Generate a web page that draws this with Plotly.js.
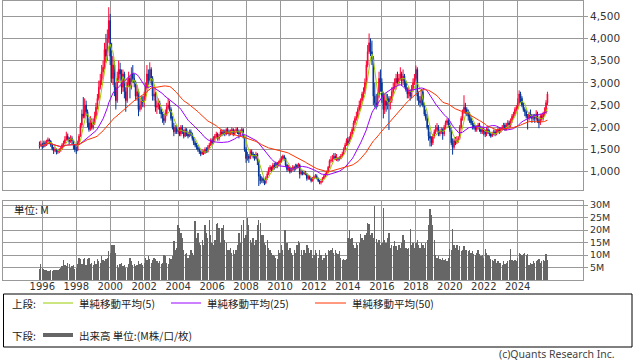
<!DOCTYPE html>
<html><head><meta charset="utf-8">
<script src="https://cdn.plot.ly/plotly-3.0.1.min.js"></script>
<style>html,body{margin:0;padding:0;background:#fff;}#chart{width:638px;height:362px;}</style>
</head><body><div id="chart"></div>
<script>
// first candle month
const startYear = 1995, startMonth = 11;

const opens = [
1600,1590,
1620,1560,1650,1600,1680,1720,1690,1600,1520,1480,1500,1440,
1470,1480,1520,1600,1650,1720,1800,1750,1680,1750,1700,1600,
1500,1480,1650,1800,2050,2300,2250,2500,2350,2100,1950,2100,
2000,2100,2250,2450,2650,2900,3050,3250,3350,3750,3600,4000,
4400,3600,3100,3400,2900,2600,3100,3300,3200,2900,3200,2800,
2600,3000,3100,2900,3200,3100,3000,2700,2800,2400,2500,2600,
2550,2700,2900,3200,3050,3300,3100,2700,2750,2450,2480,2550,
2400,2300,2200,2150,2300,2450,2500,2400,2200,2000,1900,2000,
1900,1950,1850,2000,1900,1800,1950,1850,1800,1900,1850,1750,
1650,1600,1550,1500,1450,1400,1450,1420,1500,1450,1550,1600,
1700,1650,1750,1800,1850,1750,1800,1900,1850,1900,1850,1950,
1900,1850,1900,1950,1850,1900,1950,1900,1850,1900,1950,1800,
1500,1300,1350,1300,1450,1400,1350,1300,1400,1250,900,800,
850,800,750,850,950,1050,1100,1050,1150,1100,1200,1150,
1200,1250,1300,1350,1300,1150,1050,1100,1000,1050,1100,1050,
1150,1100,1150,950,1000,950,1000,950,850,900,850,800,
850,880,900,850,800,760,780,850,900,950,1000,1100,
1250,1260,1300,1350,1300,1310,1280,1300,1350,1400,1500,1600,
1700,1650,1750,1850,1950,2100,2200,2250,2400,2500,2600,2750,
2800,3000,3400,3700,3900,3700,3550,2700,2550,2500,2700,3100,
3000,2700,2400,2600,2500,2650,2550,2600,2800,2900,3000,3100,
3000,3100,3200,3050,3150,3000,2850,2750,2800,2700,2850,3000,
3100,3300,2700,2600,2550,2800,2500,2300,2200,2000,1800,1750,
1650,1800,1900,1950,2000,1850,1900,1950,1850,2000,2100,2150,
2050,1950,1650,1550,1700,1650,1700,1750,2000,2200,2350,2450,
2400,2300,2250,2200,2100,2050,2000,1950,2000,2050,1950,1900,
1950,1900,1850,1950,1900,1850,1800,1850,1900,1850,1900,1950,
1900,1950,2000,2050,1950,2050,2100,2050,2150,2250,2300,2400,
2450,2550,2750,2650,2500,2400,2350,2250,2200,2300,2250,2200,
2250,2200,2300,2150,2100,2250,2200,2300,2350,2550
];
const highs = [
1680,1700,
1650,1700,1700,1720,1770,1750,1710,1630,1560,1560,1520,1510,
1530,1570,1640,1700,1800,1900,1860,1780,1820,1800,1720,1620,
1560,1700,1850,2100,2400,2680,2650,2600,2400,2200,2250,2200,
2200,2350,2550,2750,3050,3200,3400,3500,3900,4100,4200,4700,
4550,3900,3600,3500,3000,3250,3500,3450,3300,3300,3250,2900,
3100,3250,3150,3350,3400,3200,3050,2950,2850,2650,2700,2700,
2800,3000,3400,3300,3460,3350,3150,2900,2800,2600,2650,2600,
2450,2350,2300,2400,2550,2650,2600,2450,2250,2100,2050,2050,
2000,2000,2050,2050,1950,2000,1980,1900,1950,1950,1880,1780,
1700,1650,1600,1550,1480,1500,1480,1550,1550,1600,1650,1750,
1750,1800,1850,1900,1880,1850,1950,1950,1950,1950,1980,2000,
1950,1950,2000,1980,1950,2000,2000,1950,1950,2000,1980,1820,
1550,1450,1400,1500,1500,1450,1400,1450,1420,1280,950,900,
880,830,900,1000,1100,1150,1120,1200,1200,1230,1220,1250,
1300,1350,1385,1380,1320,1180,1150,1120,1100,1150,1130,1180,
1180,1200,1180,1050,1030,1030,1020,970,930,920,870,880,
920,950,940,870,820,800,880,930,980,1030,1130,1280,
1350,1380,1420,1420,1400,1330,1350,1400,1450,1550,1650,1750,
1780,1800,1900,2000,2150,2250,2350,2450,2600,2650,2800,2900,
3100,3500,3850,4110,4000,3950,3600,3000,2750,2800,3250,3300,
3100,2800,2750,2760,2750,2700,2700,2900,3000,3100,3200,3250,
3200,3350,3250,3300,3200,3050,2900,2900,2850,2950,3100,3200,
3390,3350,2800,2700,2860,2850,2550,2400,2300,2050,1900,1800,
1850,1950,2050,2095,2050,1950,2000,1980,2050,2150,2200,2200,
2100,2000,1750,1750,1780,1800,1800,2050,2250,2400,2720,2550,
2450,2400,2350,2250,2150,2100,2050,2050,2100,2100,2000,2000,
2000,1950,2000,2000,1950,1900,1900,1950,1950,1950,2000,2000,
2000,2050,2100,2100,2100,2160,2150,2200,2300,2350,2450,2500,
2650,2830,2800,2700,2550,2450,2400,2300,2350,2400,2300,2300,
2300,2385,2350,2200,2300,2300,2350,2450,2610,2800
];
const lows = [
1520,1560,
1500,1540,1560,1580,1650,1620,1560,1480,1400,1440,1390,1400,
1420,1450,1490,1560,1620,1700,1700,1620,1650,1620,1500,1440,
1400,1460,1620,1780,2000,2200,2200,2250,2000,1900,1920,1950,
1950,2050,2200,2400,2600,2850,2950,3100,3300,3450,3500,3900,
3400,3000,2950,2700,2400,2550,3000,3050,2750,2800,2650,2350,
2550,2900,2650,2850,3000,2900,2600,2600,2250,2350,2400,2450,
2450,2600,2850,2950,3000,2950,2600,2600,2350,2300,2400,2300,
2200,2100,2050,2100,2250,2400,2350,2150,1950,1800,1850,1850,
1850,1800,1800,1850,1750,1780,1800,1750,1780,1800,1700,1600,
1550,1500,1450,1400,1350,1380,1380,1400,1420,1430,1520,1580,
1600,1620,1700,1760,1700,1700,1780,1800,1820,1800,1820,1850,
1800,1820,1850,1800,1820,1870,1850,1750,1800,1880,1750,1450,
1200,1250,1200,1280,1350,1300,1250,1280,1150,680,720,750,
740,700,720,820,920,1000,1000,1030,1050,1080,1080,1120,
1150,1200,1270,1250,1100,1000,1020,960,980,1020,1000,1030,
1070,1080,850,920,920,930,920,800,820,820,760,780,
830,860,830,770,720,715,760,830,880,920,980,1080,
1200,1220,1280,1260,1240,1230,1250,1280,1320,1380,1480,1580,
1600,1620,1720,1800,1920,2050,2150,2200,2350,2400,2550,2650,
2750,2950,3350,3650,3600,3400,2500,2450,2400,2450,2650,2800,
2550,2200,2300,2350,2400,1940,2400,2550,2700,2850,2850,2950,
2950,3050,2950,2950,2900,2800,2650,2650,2600,2650,2800,2950,
3050,2600,2500,2450,2500,2450,2250,2150,1950,1700,1570,1570,
1600,1750,1850,1900,1800,1800,1850,1720,1800,1950,2050,2000,
1900,1600,1385,1500,1600,1620,1650,1720,1950,2150,2300,2300,
2250,2150,2100,2050,1950,1950,1900,1900,1950,1900,1850,1850,
1820,1780,1800,1850,1800,1765,1780,1820,1800,1820,1870,1850,
1880,1920,1950,1920,1930,2000,2000,2000,2100,2200,2250,2350,
2400,2500,2550,2450,2350,2250,2200,1950,2150,2200,2100,2150,
2100,2150,2100,1980,2050,2150,2150,2250,2300,2500
];
const closes = [
1590,1620,
1560,1650,1600,1680,1720,1690,1600,1520,1480,1500,1440,1470,
1480,1520,1600,1650,1720,1800,1750,1680,1750,1700,1600,1500,
1480,1650,1800,2050,2300,2250,2500,2350,2100,1950,2100,2000,
2100,2250,2450,2650,2900,3050,3250,3350,3750,3600,4000,4400,
3600,3100,3400,2900,2600,3100,3300,3200,2900,3200,2800,2600,
3000,3100,2900,3200,3100,3000,2700,2800,2400,2500,2600,2550,
2700,2900,3200,3050,3300,3100,2700,2750,2450,2480,2550,2400,
2300,2200,2150,2300,2450,2500,2400,2200,2000,1900,2000,1900,
1950,1850,2000,1900,1800,1950,1850,1800,1900,1850,1750,1650,
1600,1550,1500,1450,1400,1450,1420,1500,1450,1550,1600,1700,
1650,1750,1800,1850,1750,1800,1900,1850,1900,1850,1950,1900,
1850,1900,1950,1850,1900,1950,1900,1850,1900,1950,1800,1500,
1300,1350,1300,1450,1400,1350,1300,1400,1250,900,800,850,
800,750,850,950,1050,1100,1050,1150,1100,1200,1150,1200,
1250,1300,1350,1300,1150,1050,1100,1000,1050,1100,1050,1150,
1100,1150,950,1000,950,1000,950,850,900,850,800,850,
880,900,850,800,760,780,850,900,950,1000,1100,1250,
1260,1300,1350,1300,1310,1280,1300,1350,1400,1500,1600,1700,
1650,1750,1850,1950,2100,2200,2250,2400,2500,2600,2750,2800,
3000,3400,3700,3900,3700,3550,2700,2550,2500,2700,3100,3000,
2700,2400,2600,2500,2650,2550,2600,2800,2900,3000,3100,3000,
3100,3200,3050,3150,3000,2850,2750,2800,2700,2850,3000,3100,
3300,2700,2600,2550,2800,2500,2300,2200,2000,1800,1750,1650,
1800,1900,1950,2000,1850,1900,1950,1850,2000,2100,2150,2050,
1950,1650,1550,1700,1650,1700,1750,2000,2200,2350,2450,2400,
2300,2250,2200,2100,2050,2000,1950,2000,2050,1950,1900,1950,
1900,1850,1950,1900,1850,1800,1850,1900,1850,1900,1950,1900,
1950,2000,2050,1950,2050,2100,2050,2150,2250,2300,2400,2450,
2550,2750,2650,2500,2400,2350,2250,2200,2300,2250,2200,2250,
2200,2300,2150,2100,2250,2200,2300,2350,2550,2750
];
// volume in millions
const volumes = [
4.5,6.5,
4.8,4.5,4.2,4.0,3.6,3.8,4.0,3.8,4.0,4.1,4.2,4.0,
4.5,5.0,5.5,8.2,6.0,5.5,7.0,6.5,5.0,5.5,6.0,4.5,
5.0,6.5,9.0,8.5,6.5,8.5,9.0,6.0,8.5,9.0,6.5,7.0,
6.0,7.5,6.5,8.5,7.5,7.0,9.5,8.0,7.5,8.5,9.0,11.5,
11.0,14.0,14.0,14.0,11.0,6.0,5.0,6.5,7.0,5.5,6.0,5.0,
5.0,6.5,9.0,7.5,6.0,6.5,5.5,6.0,7.5,6.5,7.0,6.0,
7.0,9.0,8.0,9.5,8.5,7.0,8.0,9.0,8.5,7.5,7.0,7.5,
6.5,7.0,10.0,9.5,7.0,6.5,9.0,8.5,9.5,15.5,12.0,13.0,
22,21,19,17,12,10.5,11,9,10,12,11,10,
23.5,17,19,15,14,16,14,22,19,17,24,18,
15,14,16,22.5,23,21,15,21,22,16,15,12,
12,13,11,12,10.5,12,14,19,15,22,24,17,
18,25,22,16,15,17,14,16,22,24,23,18,
18,15,14,16,13,12,11,10,9.5,9,8.5,12,
11,14,12,20,20,15,12,13,11,10,12,11,
14,15.5,15,12,10,12,11,14,13,11,12,9,
10,12,11,9,12,10,8,9,11,10,12,11.5,
12,13,11,12,11,10.5,11.5,9,8,8.5,8,8.5,
17,20,16.5,17,14,13,15,14,15,18.5,17,16,
18,19,23,22.5,18,19,17,29.8,16.5,15,16,14,
15,28.7,16,15,17,18.8,13,14,13.5,15.7,13.8,12,
14,13,15,18,16,13,12.5,13,20.5,14,15,13,
15,16,14,13,15,14,13,15,16,22,28.5,26,
22,16,10,9,9.5,8.5,8,9,8,8.5,7.5,9,
12.5,12,20.5,14,13,14,12,13.5,11.5,12,13.5,12,
12,11.5,12,11,11.5,10.5,10,11,12,10.5,9.5,10,
9,12.5,11,10,9.5,8.5,8,7.5,8.5,7,7.5,7,
7,6,7.5,6.5,7,7.5,8,12.5,8,7.5,8,7.5,
9,11,10.5,10,10.5,11,10,10.5,6,7,6.5,7.5,
7,7.5,8,8.5,7,7.5,8,7.5,10.5,8
];
const priceTicks = [1000,1500,2000,2500,3000,3500,4000,4500];
const volumeTicks = [5,10,15,20,25,30];
const volumeTickText = ['5M','10M','15M','20M','25M','30M'];
const yearTicks = ['1996','1998','2000','2002','2004','2006','2008','2010','2012','2014','2016','2018','2020','2022','2024'];
const maPeriods = [5,25,50];
const maColors = ['#99cc00','#9900ff','#ff3300'];
const maNames = ['単純移動平均(5)','単純移動平均(25)','単純移動平均(50)'];

// month dates
const dates = closes.map((_, i) => {
  const m0 = startMonth - 1 + i;
  const y = startYear + Math.floor(m0 / 12);
  const m = (m0 % 12) + 1;
  return y + '-' + String(m).padStart(2, '0') + '-01';
});
const yearTickVals = yearTicks.map(y => y + '-01-01');
function sma(arr, n) {
  return arr.map((_, i) => {
    const s = Math.max(0, i - n + 1);
    let t = 0;
    for (let k = s; k <= i; k++) t += arr[k];
    return t / (i - s + 1);
  });
}

const traces = [{
  type: 'candlestick', x: dates, open: opens, high: highs, low: lows, close: closes,
  xaxis: 'x', yaxis: 'y', whiskerwidth: 0,
  increasing: {line: {color: '#ff0033', width: 1}, fillcolor: '#ff0033'},
  decreasing: {line: {color: '#003399', width: 1}, fillcolor: '#003399'},
  hoverinfo: 'skip'
}];
maPeriods.forEach((p, k) => {
  traces.push({type: 'scatter', mode: 'lines', x: dates, y: sma(closes, p), xaxis: 'x', yaxis: 'y',
    line: {color: maColors[k], width: 1}, name: maNames[k], hoverinfo: 'skip'});
});
traces.push({type: 'bar', x: dates, y: volumes, xaxis: 'x2', yaxis: 'y2',
  marker: {color: '#666666', line: {width: 0}}, hoverinfo: 'skip'});

const xRange = ['1993-09-08', '2027-11-05'];
const gridC = '#999999';
const axisBase = {showgrid: true, gridcolor: gridC, gridwidth: 1, showline: true, linecolor: gridC,
  linewidth: 1, mirror: true, zeroline: false, fixedrange: true};

// paper coordinate helpers (plot area x:3..583, y:1..280)
const px = v => (v - 3) / 580;
const py = v => (280 - v) / 279;
const cjk = '"Noto Sans CJK JP", "Noto Sans", sans-serif';
const txt = {family: cjk, size: 10.5, color: '#222'};
const tickFamily = '"DejaVu Sans", Verdana, sans-serif';

const layout = {
  width: 638, height: 362,
  margin: {l: 3, r: 55, t: 1, b: 82},
  paper_bgcolor: '#ffffff', plot_bgcolor: '#ffffff',
  showlegend: false, bargap: 0,
  font: {family: tickFamily, size: 10, color: '#333'},
  xaxis: Object.assign({}, axisBase, {type: 'date', range: xRange, anchor: 'y', showticklabels: false,
    tickmode: 'array', tickvals: yearTickVals, ticks: '', rangeslider: {visible: false}}),
  xaxis2: Object.assign({}, axisBase, {type: 'date', range: xRange, anchor: 'y2',
    tickmode: 'array', tickvals: yearTickVals, ticktext: yearTicks, ticks: '', ticklabelstandoff: -3,
    tickfont: {family: tickFamily, size: 10, color: '#333'}}),
  yaxis: Object.assign({}, axisBase, {domain: [py(190), 1], side: 'right', range: [590, 4840],
    tickvals: priceTicks, tickformat: ',d', ticks: 'outside', ticklen: 4, tickcolor: gridC,
    tickfont: {family: tickFamily, size: 10.5, color: '#333'}}),
  yaxis2: Object.assign({}, axisBase, {domain: [0, py(201)], side: 'right', range: [0, 31.6],
    tickmode: 'array', tickvals: volumeTicks, ticktext: volumeTickText, ticks: 'outside', ticklen: 4, tickcolor: gridC,
    tickfont: {family: tickFamily, size: 9.5, color: '#333'}}),
  shapes: [
    {type: 'rect', xref: 'paper', yref: 'paper', x0: px(3.5), x1: px(632), y0: py(294), y1: py(347),
      line: {color: '#000', width: 1}, fillcolor: 'rgba(0,0,0,0)'},
    {type: 'line', xref: 'paper', yref: 'paper', x0: px(43), x1: px(73), y0: py(303), y1: py(303), line: {color: maColors[0], width: 1}},
    {type: 'line', xref: 'paper', yref: 'paper', x0: px(171), x1: px(201), y0: py(303), y1: py(303), line: {color: maColors[1], width: 1}},
    {type: 'line', xref: 'paper', yref: 'paper', x0: px(315), x1: px(346), y0: py(303), y1: py(303), line: {color: maColors[2], width: 1}},
    {type: 'line', xref: 'paper', yref: 'paper', x0: px(43), x1: px(73), y0: py(335), y1: py(335), line: {color: '#666', width: 4}}
  ],
  annotations: [
    {xref: 'paper', yref: 'paper', x: px(12), y: py(209.5), xanchor: 'left', yanchor: 'middle', showarrow: false, text: '単位: M', font: txt},
    {xref: 'paper', yref: 'paper', x: px(10), y: py(303), xanchor: 'left', yanchor: 'middle', showarrow: false, text: '上段:', font: txt},
    {xref: 'paper', yref: 'paper', x: px(77), y: py(303), xanchor: 'left', yanchor: 'middle', showarrow: false, text: maNames[0], font: txt},
    {xref: 'paper', yref: 'paper', x: px(205), y: py(303), xanchor: 'left', yanchor: 'middle', showarrow: false, text: maNames[1], font: txt},
    {xref: 'paper', yref: 'paper', x: px(350), y: py(303), xanchor: 'left', yanchor: 'middle', showarrow: false, text: maNames[2], font: txt},
    {xref: 'paper', yref: 'paper', x: px(10), y: py(335), xanchor: 'left', yanchor: 'middle', showarrow: false, text: '下段:', font: txt},
    {xref: 'paper', yref: 'paper', x: px(77), y: py(335), xanchor: 'left', yanchor: 'middle', showarrow: false, text: '出来高 単位:(M株/口/枚)', font: txt},
    {xref: 'paper', yref: 'paper', x: px(617), y: py(354), xanchor: 'right', yanchor: 'middle', showarrow: false, text: '(c)Quants Research Inc.', font: {family: '"Noto Sans", sans-serif', size: 10.5, color: '#444'}}
  ]
};

Plotly.newPlot('chart', traces, layout, {staticPlot: true, displayModeBar: false});
</script>
</body></html>
